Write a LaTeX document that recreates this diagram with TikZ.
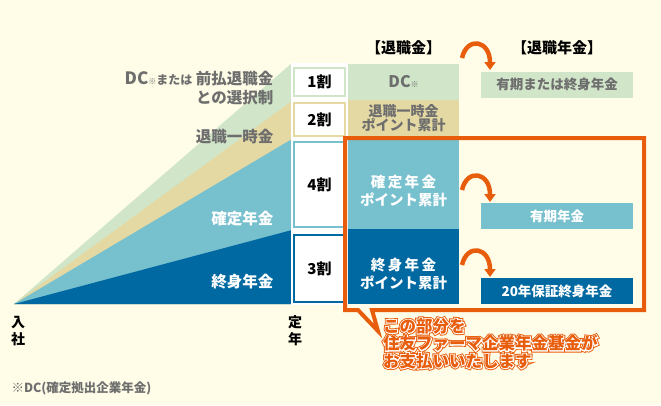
\documentclass[tikz,border=0pt]{standalone}
\usepackage{fontspec}
\setmainfont{Noto Sans CJK JP}
\usetikzlibrary{arrows.meta,positioning,calc}
\definecolor{cream}{HTML}{FFFDE7}
\definecolor{dcgreen}{HTML}{D1E6C9}
\definecolor{lumptan}{HTML}{E5D9A3}
\definecolor{termblue}{HTML}{77C0CE}
\definecolor{lifeblue}{HTML}{0069A1}
\definecolor{payorange}{HTML}{E85D0B}
\definecolor{txtgrey}{HTML}{6E6E6E}
\newcommand\paidtext{この部分を\\住友ファーマ企業年金基金が\\お支払いいたします}
\tikzset{
  cellbox/.style={anchor=north west, inner sep=0pt, outer sep=0pt, minimum width=111pt},
  celltext/.style={font=\bfseries\fontsize{14.5}{16}\selectfont, align=center},
  ratio/.style={draw=#1, line width=2pt, fill=white, inner sep=0pt, minimum width=51pt,
                font=\bfseries\fontsize{15}{15}\selectfont},
  pension/.style={fill=#1, inner sep=0pt, minimum width=152pt, minimum height=26pt,
                  font=\bfseries\fontsize{13.5}{14}\selectfont},
  lbl/.style={anchor=east, font=\bfseries\fontsize{15.5}{19}\selectfont, align=right},
  head/.style={font=\bfseries\fontsize{15}{15}\selectfont},
  turn/.style={payorange, line width=4.5pt, -{Triangle[width=11pt,length=8pt]}},
  frame/.style={draw=payorange, line width=4pt, line join=miter},
  paid/.style={anchor=north west, align=left, inner sep=0pt,
               font=\bfseries\fontsize{16.5}{17.5}\selectfont\addfontfeature{FakeBold=#1}},
}

\begin{document}
\begin{tikzpicture}[x=1pt, y=-1pt]
  \fill[cream] (0,0) rectangle (661,405);
  \useasboundingbox (0,0) rectangle (661,405);

  % growth of the points from hiring to retirement
  \coordinate (hire) at (14,304);
  \foreach \top/\col in {63/dcgreen, 101/lumptan, 139/termblue, 230/lifeblue}
    \fill[\col] (hire) -- (292,\top) -- (292,304) -- cycle;
  \fill[white] (291,63) rectangle (348,305);

  \node[lbl, text=txtgrey] (dclbl) at (277,88)
    {{\fontsize{17}{17}\selectfont DC}{\fontsize{8}{8}\selectfont ※}{\fontsize{12}{12}\selectfont または} 前払退職金\\との選択制};
  \node[lbl, text=txtgrey] (lumplbl) at (277,137) {退職一時金};
  \node[lbl, text=white] (termlbl) at (277,219) {確定年金};
  \node[lbl, text=white] (lifelbl) at (277,282) {終身年金};

  % share of each part
  \foreach \y/\h/\col/\r in {82/28/dcgreen/1割, 119.5/33/lumptan/2割,
                             184.5/85/termblue/4割, 268.5/67/lifeblue/3割}
    \node[ratio=\col, minimum height=\h pt] (r\r) at (319.5,\y) {\r};

  % lump sum column
  \node[head] (lumphead) at (403.5,48) {【退職金】};
  \node[head] (annhead) at (557,48) {【退職年金】};
  \foreach \top/\h/\col/\n in {64/36/dcgreen/dc, 100/38/lumptan/lump,
                               138/91/termblue/term, 229/75/lifeblue/life}
    \node[cellbox, fill=\col, minimum height=\h pt] (cell\n) at (348,\top) {};
  \node[celltext, text=txtgrey] (dctxt) at (403.5,82) {{\fontsize{16}{16}\selectfont DC}{\fontsize{8}{8}\selectfont ※}};
  \node[celltext, text=txtgrey, font=\bfseries\fontsize{14}{14}\selectfont] (lumptxt) at (403.5,118) {退職一時金\\ポイント累計};
  \node[celltext, text=white] (termtxt) at (403.5,191) {確\,定\,年\,金\\[2pt]ポイント累計};
  \node[celltext, text=white] (lifetxt) at (403.5,274) {終\,身\,年\,金\\[2pt]ポイント累計};

  % pension forms
  \node[pension=dcgreen, text=txtgrey] (dcann) at (557,84.5) {有期または終身年金};
  \node[pension=termblue, text=white] (termann) at (557,216) {有期年金};
  \node[pension=lifeblue, text=white] (lifeann) at (557,291) {20年保証終身年金};

  \coordinate (t1) at (462,58);  \coordinate (h1) at (490,70);
  \coordinate (t2) at (462,190); \coordinate (h2) at (490,202);
  \coordinate (t3) at (462,265); \coordinate (h3) at (490,277);
  \foreach \i in {1,2,3}
    \draw[turn] (t\i) .. controls +(5,-22) and +(0,-30) .. (h\i);

  % paid by the fund
  \draw[frame] (345,138) -- (644,138) -- (644,310) -- (372,310) -- (378,331)
    -- (358,310) -- (345,310) -- cycle;
  \node[paid=22, text=payorange] (paidrim) at (383,318) {\paidtext};
  \node[paid=11, text=white] (paidhalo) at (383,318) {\paidtext};
  \node[paid=0, text=payorange] (paid) at (383,318) {\paidtext};

  \node[font=\bfseries\fontsize{14}{17}\selectfont, align=center] (hirelbl) at (18,331) {入\\社};
  \node[font=\bfseries\fontsize{14}{17}\selectfont, align=center] (retlbl) at (295,331) {定\\年};
  \node[anchor=west, text=txtgrey, font=\bfseries\fontsize{12.5}{13}\selectfont] (note)
    at (8,388) {※DC(確定拠出企業年金)};
\end{tikzpicture}
\end{document}
